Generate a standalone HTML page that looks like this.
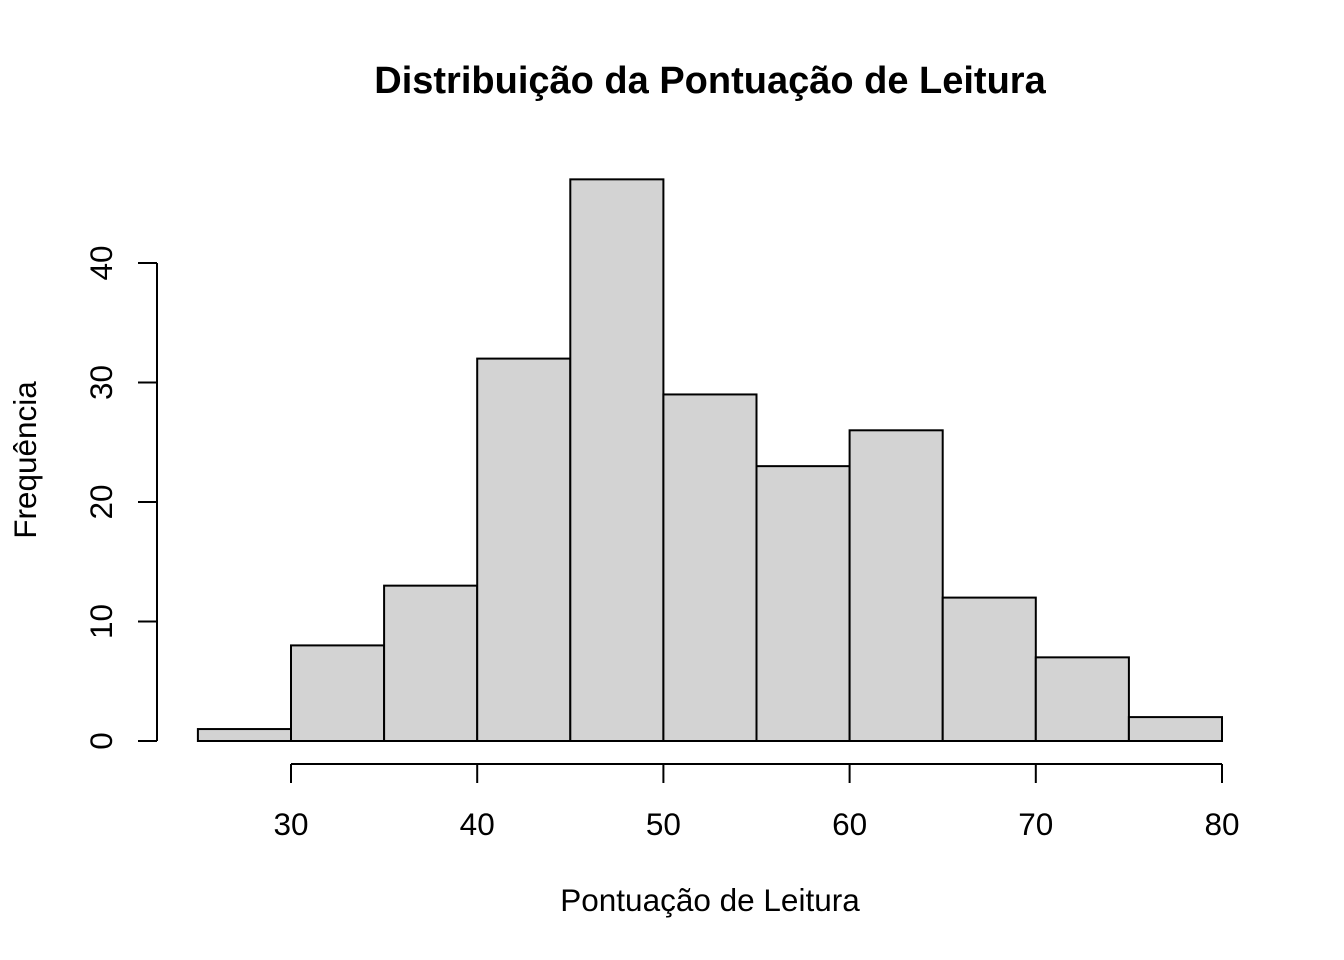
<!DOCTYPE html>
<html><head><meta charset="utf-8"><style>
html,body{margin:0;padding:0;background:#fff;}
svg{display:block;font-family:"Liberation Sans",Arial,sans-serif;}
</style></head><body>
<svg id="chart" width="1344" height="960">
<text x="710" y="93" text-anchor="middle" font-size="38" font-weight="bold">Distribuição da Pontuação de Leitura</text>
<text x="710" y="911" text-anchor="middle" font-size="31.5">Pontuação de Leitura</text>
<text transform="translate(36,460) rotate(-90)" text-anchor="middle" font-size="31.5">Frequência</text>
<g id="bars"></g><g id="axes"></g>
</svg>
<script>
const binStarts = [25,30,35,40,45,50,55,60,65,70,75];
const binWidth = 5;
const counts = [1,8,13,32,47,29,23,26,12,7,2];
const xTicks = [30,40,50,60,70,80];
const yTicks = [0,10,20,30,40];
const NS = "http://www.w3.org/2000/svg";
const xs = v => 291 + (v - 30) * (1222 - 291) / 50;
const ys = v => 741 - v * (741 - 263) / 40;
function mk(tag, attrs, parent){const e=document.createElementNS(NS,tag);for(const k in attrs)e.setAttribute(k,attrs[k]);parent.appendChild(e);return e;}
const bars=document.getElementById('bars'), axes=document.getElementById('axes');
binStarts.forEach((b,i)=>{
  const r=mk('rect',{x:xs(b),y:ys(counts[i]),width:xs(b+binWidth)-xs(b),height:ys(0)-ys(counts[i]),fill:'#d3d3d3',stroke:'#000','stroke-width':2},bars);
  
  
});
const xl=mk('line',{x1:xs(xTicks[0]),x2:xs(xTicks[xTicks.length-1]),y1:764,y2:764,stroke:'#000','stroke-width':2},axes);


xTicks.forEach(t=>{
  mk('line',{x1:xs(t),x2:xs(t),y1:764,y2:783,stroke:'#000','stroke-width':2},axes);
  const tx=mk('text',{x:xs(t),y:835,'text-anchor':'middle','font-size':31.5},axes);
  tx.textContent=t;
  
  
});
const yl=mk('line',{x1:157,x2:157,y1:ys(yTicks[0]),y2:ys(yTicks[yTicks.length-1]),stroke:'#000','stroke-width':2},axes);


yTicks.forEach(t=>{
  mk('line',{x1:138,x2:157,y1:ys(t),y2:ys(t),stroke:'#000','stroke-width':2},axes);
  const tx=mk('text',{transform:'translate(112,'+ys(t)+') rotate(-90)','text-anchor':'middle','font-size':31.5},axes);
  tx.textContent=t;
  
  
});
</script>
</body></html>
